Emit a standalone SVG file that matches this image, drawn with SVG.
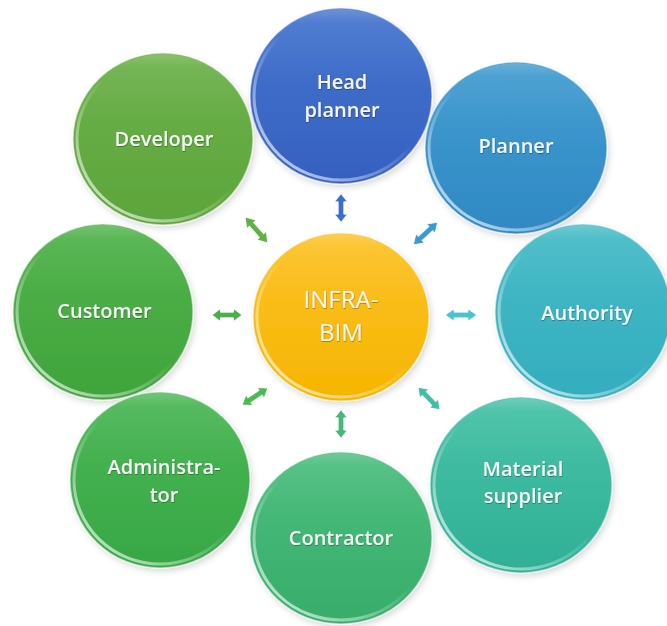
<svg xmlns="http://www.w3.org/2000/svg" xmlns:xlink="http://www.w3.org/1999/xlink" width="667" height="626" viewBox="0 0 667 626">
<defs>
<style>
.lbl{font-family:"Open Sans","Noto Sans",sans-serif;font-weight:600;font-size:20px;fill:#f6f6f6;text-anchor:middle;filter:url(#ts)}
.big{font-size:24px;font-weight:500}
.rim{fill:none;stroke:url(#rimG);stroke-width:3}
.edge{stroke:#ffffff;stroke-opacity:0.5;stroke-width:1.5}
.gloss{fill:url(#glossG)}
.arr{stroke:#ffffff;stroke-width:1;stroke-opacity:0.9}
</style>
<filter id="ts" x="-10%" y="-20%" width="120%" height="140%"><feDropShadow dx="0.5" dy="1" stdDeviation="0.6" flood-color="#000" flood-opacity="0.3"/></filter>
<filter id="sh" x="-10%" y="-10%" width="125%" height="125%"><feDropShadow dx="2" dy="3" stdDeviation="3" flood-color="#000" flood-opacity="0.15"/></filter>
<linearGradient id="rimG" x1="0" y1="1" x2="0.7" y2="0.2"><stop offset="0" stop-color="#fff" stop-opacity="0.85"/><stop offset="0.45" stop-color="#fff" stop-opacity="0.3"/><stop offset="0.7" stop-color="#fff" stop-opacity="0"/></linearGradient>
<linearGradient id="glossG" x1="0" y1="0" x2="0" y2="1"><stop offset="0" stop-color="#fff" stop-opacity="0.2"/><stop offset="0.08" stop-color="#fff" stop-opacity="0.06"/><stop offset="0.4" stop-color="#fff" stop-opacity="0"/></linearGradient>
<linearGradient id="gHead" x1="0" y1="0" x2="0" y2="1"><stop offset="0" stop-color="#4676cf"/><stop offset="1" stop-color="#3560c0"/></linearGradient>
<linearGradient id="gPlan" x1="0" y1="0" x2="0" y2="1"><stop offset="0" stop-color="#439dd0"/><stop offset="1" stop-color="#2f88c4"/></linearGradient>
<linearGradient id="gAuth" x1="0" y1="0" x2="0" y2="1"><stop offset="0" stop-color="#47bbc7"/><stop offset="1" stop-color="#33adbe"/></linearGradient>
<linearGradient id="gMat" x1="0" y1="0" x2="0" y2="1"><stop offset="0" stop-color="#46c2a7"/><stop offset="1" stop-color="#30b096"/></linearGradient>
<linearGradient id="gCon" x1="0" y1="0" x2="0" y2="1"><stop offset="0" stop-color="#4cbe7f"/><stop offset="1" stop-color="#37ad6a"/></linearGradient>
<linearGradient id="gAdm" x1="0" y1="0" x2="0" y2="1"><stop offset="0" stop-color="#4cb757"/><stop offset="1" stop-color="#37a745"/></linearGradient>
<linearGradient id="gCus" x1="0" y1="0" x2="0" y2="1"><stop offset="0" stop-color="#52b34c"/><stop offset="1" stop-color="#3fa43b"/></linearGradient>
<linearGradient id="gDev" x1="0" y1="0" x2="0" y2="1"><stop offset="0" stop-color="#6db14b"/><stop offset="1" stop-color="#5ca53b"/></linearGradient>
<linearGradient id="gCen" x1="0" y1="0" x2="0" y2="1"><stop offset="0" stop-color="#fcc228"/><stop offset="1" stop-color="#f6b500"/></linearGradient>
<path id="arrow" d="M-15,0 L-6.5,-7.5 L-6.5,-3.3 L6.5,-3.3 L6.5,-7.5 L15,0 L6.5,7.5 L6.5,3.3 L-6.5,3.3 L-6.5,7.5 Z"/>
</defs>
<rect width="667" height="626" fill="#ffffff"/>

<g id="connectors">
<use href="#arrow" class="arr" fill="#3a6fcf" transform="translate(341,208) rotate(90) scale(0.95,0.85)"/>
<use href="#arrow" class="arr" fill="#3b9ad2" transform="translate(425.5,233.5) rotate(-42.6) scale(1.1,0.85)"/>
<use href="#arrow" class="arr" fill="#46c3d0" transform="translate(461,315) scale(1.05,0.85)"/>
<use href="#arrow" class="arr" fill="#3fbfa8" transform="translate(429,398.5) rotate(46) scale(1.05,0.85)"/>
<use href="#arrow" class="arr" fill="#45b87a" transform="translate(341,424) rotate(90) scale(0.95,0.85)"/>
<use href="#arrow" class="arr" fill="#4bbb55" transform="translate(255,396.5) rotate(-33) scale(1.02,0.85)"/>
<use href="#arrow" class="arr" fill="#4bb04a" transform="translate(227,315) scale(1.0,0.85)"/>
<use href="#arrow" class="arr" fill="#62b04a" transform="translate(256.5,230) rotate(48.5) scale(1.15,0.85)"/>
</g>

<g id="developer" filter="url(#sh)">
<ellipse cx="163" cy="139" rx="90" ry="86" fill="url(#gDev)" class="edge"/>
<ellipse cx="163" cy="139" rx="86" ry="82" class="rim"/>
<ellipse cx="163" cy="139" rx="89" ry="85" class="gloss"/>
<text class="lbl" x="164" y="146">Developer</text>
</g>

<g id="head-planner" filter="url(#sh)">
<ellipse cx="341" cy="96" rx="91" ry="88" fill="url(#gHead)" class="edge"/>
<ellipse cx="341" cy="96" rx="87" ry="84" class="rim"/>
<ellipse cx="341" cy="96" rx="90" ry="87" class="gloss"/>
<text class="lbl" x="342" y="89">Head</text>
<text class="lbl" x="342" y="117">planner</text>
</g>

<g id="planner" filter="url(#sh)">
<ellipse cx="516" cy="148" rx="91" ry="86" fill="url(#gPlan)" class="edge"/>
<ellipse cx="516" cy="148" rx="87" ry="82" class="rim"/>
<ellipse cx="516" cy="148" rx="90" ry="85" class="gloss"/>
<text class="lbl" x="516" y="153">Planner</text>
</g>

<g id="customer" filter="url(#sh)">
<ellipse cx="103" cy="312" rx="90" ry="88" fill="url(#gCus)" class="edge"/>
<ellipse cx="103" cy="312" rx="86" ry="84" class="rim"/>
<ellipse cx="103" cy="312" rx="89" ry="87" class="gloss"/>
<text class="lbl" x="104.5" y="318">Customer</text>
</g>

<g id="authority" filter="url(#sh)">
<ellipse cx="583" cy="312" rx="88" ry="88" fill="url(#gAuth)" class="edge"/>
<ellipse cx="583" cy="312" rx="84" ry="84" class="rim"/>
<ellipse cx="583" cy="312" rx="87" ry="87" class="gloss"/>
<text class="lbl" x="587" y="320">Authority</text>
</g>

<g id="administrator" filter="url(#sh)">
<ellipse cx="160" cy="480" rx="90" ry="88" fill="url(#gAdm)" class="edge"/>
<ellipse cx="160" cy="480" rx="86" ry="84" class="rim"/>
<ellipse cx="160" cy="480" rx="89" ry="87" class="gloss"/>
<text class="lbl" x="164" y="474">Administra-</text>
<text class="lbl" x="164" y="502">tor</text>
</g>

<g id="material-supplier" filter="url(#sh)">
<ellipse cx="521" cy="485" rx="91" ry="88" fill="url(#gMat)" class="edge"/>
<ellipse cx="521" cy="485" rx="87" ry="84" class="rim"/>
<ellipse cx="521" cy="485" rx="90" ry="87" class="gloss"/>
<text class="lbl" x="523" y="476">Material</text>
<text class="lbl" x="523" y="503">supplier</text>
</g>

<g id="contractor" filter="url(#sh)">
<ellipse cx="341" cy="538" rx="91" ry="86" fill="url(#gCon)" class="edge"/>
<ellipse cx="341" cy="538" rx="87" ry="82" class="rim"/>
<ellipse cx="341" cy="538" rx="90" ry="85" class="gloss"/>
<text class="lbl" x="341" y="545">Contractor</text>
</g>

<g id="infra-bim" filter="url(#sh)">
<ellipse cx="341" cy="317" rx="88" ry="84" fill="url(#gCen)" class="edge"/>
<ellipse cx="341" cy="317" rx="84" ry="80" class="rim"/>
<ellipse cx="341" cy="317" rx="87" ry="83" class="gloss"/>
<text class="lbl big" x="341" y="308">INFRA-</text>
<text class="lbl big" x="341" y="341">BIM</text>
</g>
</svg>
